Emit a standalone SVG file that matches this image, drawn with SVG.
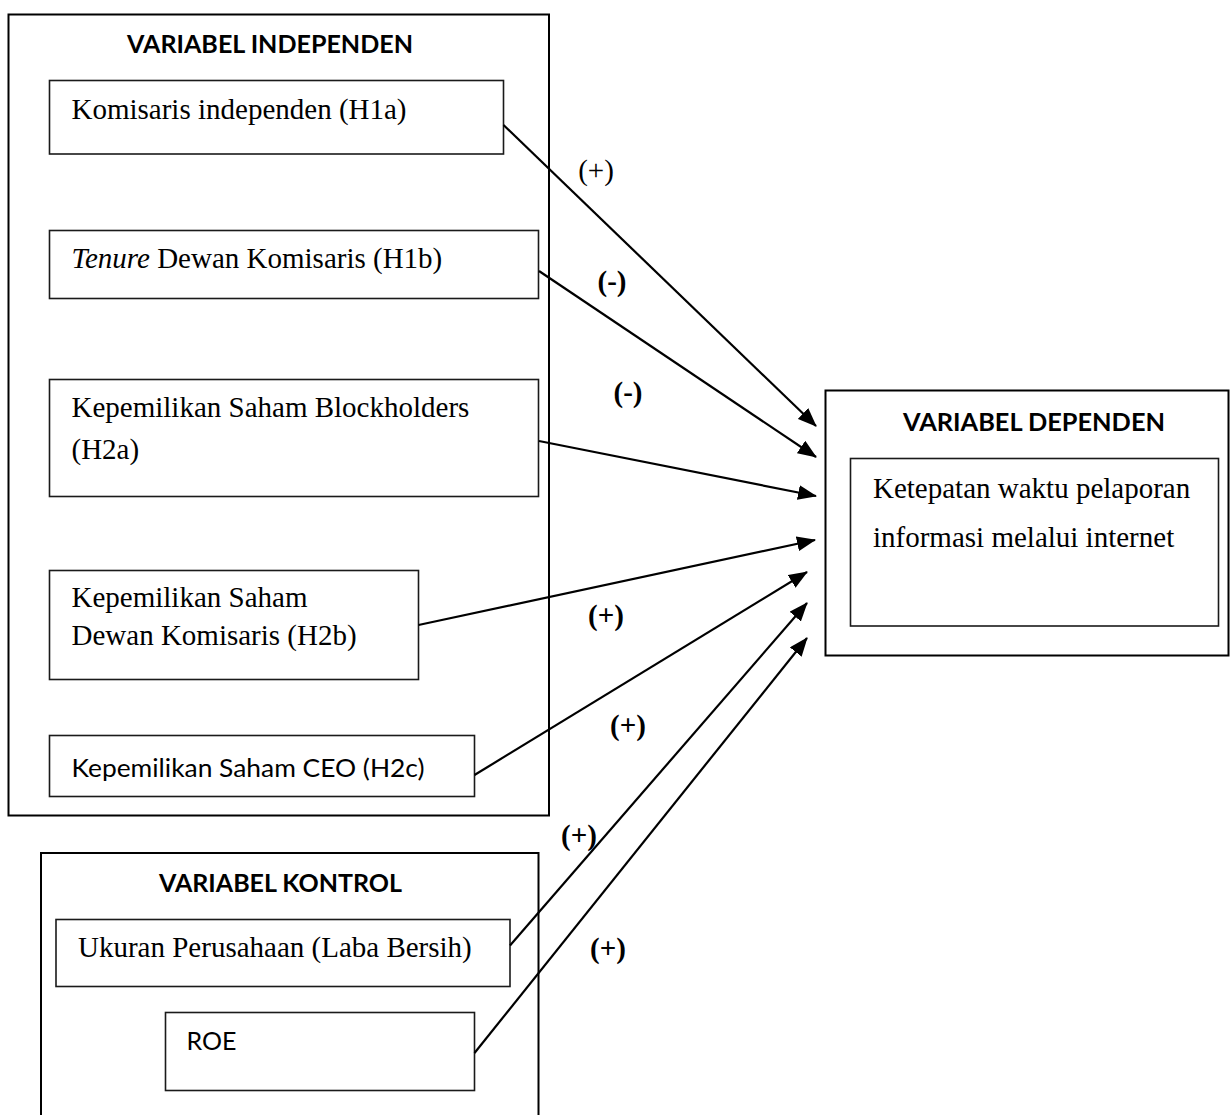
<svg xmlns="http://www.w3.org/2000/svg" width="1230" height="1115" viewBox="0 0 1230 1115">
<style>
.outer{fill:none;stroke:#000;stroke-width:2}
.box{fill:#fff;stroke:#1a1a1a;stroke-width:1.6}
.title{font-family:Lato,"Liberation Sans",sans-serif;font-weight:bold;font-size:25.5px;fill:#000;text-anchor:middle}
.serif{font-family:"Liberation Serif","Times New Roman",serif;font-size:29px;fill:#000}
.sans{font-family:Lato,"Liberation Sans",sans-serif;font-size:25px;fill:#000}
.lbl{font-family:"Liberation Serif","Times New Roman",serif;font-size:29px;fill:#000;text-anchor:middle}
.b{font-weight:bold}
.conn line{stroke:#000;stroke-width:2.2;marker-end:url(#ah)}
</style>
<defs>
<marker id="ah" markerUnits="userSpaceOnUse" markerWidth="19" markerHeight="15" refX="18" refY="7.5" orient="auto">
<path d="M0,0 L19,7.5 L0,15 z" fill="#000"/>
</marker>
</defs>
<rect width="1230" height="1115" fill="#fff"/>

<g id="independen">
<rect class="outer" x="8.5" y="14.5" width="540.5" height="801"/>
<text class="title" x="270" y="53" textLength="286" lengthAdjust="spacingAndGlyphs">VARIABEL INDEPENDEN</text>
</g>
<g id="h1a">
<rect class="box" x="49.5" y="80.5" width="454" height="73.5"/>
<text class="serif" x="71.5" y="119">Komisaris independen (H1a)</text>
</g>
<g id="h1b">
<rect class="box" x="49.5" y="230.5" width="489" height="68"/>
<text class="serif" x="71.5" y="268"><tspan font-style="italic">Tenure</tspan> Dewan Komisaris (H1b)</text>
</g>
<g id="h2a">
<rect class="box" x="49.5" y="379.5" width="489" height="117"/>
<text class="serif" x="71.5" y="417">Kepemilikan Saham Blockholders</text>
<text class="serif" x="71.5" y="459">(H2a)</text>
</g>
<g id="h2b">
<rect class="box" x="49.5" y="570.5" width="369" height="109"/>
<text class="serif" x="71.5" y="606.5">Kepemilikan Saham</text>
<text class="serif" x="71.5" y="645">Dewan Komisaris (H2b)</text>
</g>
<g id="h2c">
<rect class="box" x="49.5" y="735.5" width="425" height="61"/>
<text class="sans" x="71.5" y="776.5" textLength="353" lengthAdjust="spacingAndGlyphs">Kepemilikan Saham CEO (H2c)</text>
</g>

<g id="dependen">
<rect class="outer" x="825.5" y="390.5" width="403" height="265"/>
<text class="title" x="1034" y="431" textLength="262" lengthAdjust="spacingAndGlyphs">VARIABEL DEPENDEN</text>
</g>
<g id="ketepatan">
<rect class="box" x="850.5" y="458.5" width="368" height="167.5"/>
<text class="serif" x="873" y="498">Ketepatan waktu pelaporan</text>
<text class="serif" x="873" y="546.5">informasi melalui internet</text>
</g>

<g id="kontrol">
<rect class="outer" x="41" y="853" width="497.5" height="300"/>
<text class="title" x="280.5" y="891.5" textLength="243" lengthAdjust="spacingAndGlyphs">VARIABEL KONTROL</text>
</g>
<g id="ukuran">
<rect class="box" x="56" y="919.5" width="454" height="67"/>
<text class="serif" x="78" y="956.5">Ukuran Perusahaan (Laba Bersih)</text>
</g>
<g id="roe">
<rect class="box" x="165.5" y="1012.5" width="309" height="78"/>
<text class="sans" x="186.5" y="1050">ROE</text>
</g>

<g id="connectors" class="conn">
<line x1="503.5" y1="125" x2="816" y2="426"/>
<line x1="539" y1="271" x2="816" y2="457"/>
<line x1="539" y1="441" x2="816" y2="496"/>
<line x1="418.5" y1="625" x2="815" y2="540"/>
<line x1="474.5" y1="775" x2="807" y2="572"/>
<line x1="510" y1="945.5" x2="807" y2="603"/>
<line x1="474.5" y1="1053" x2="807" y2="638"/>
</g>

<g id="labels">
<text class="lbl" x="596" y="180">(+)</text>
<text class="lbl b" x="612" y="291">(-)</text>
<text class="lbl b" x="628" y="402">(-)</text>
<text class="lbl b" x="606" y="625">(+)</text>
<text class="lbl b" x="628" y="735">(+)</text>
<text class="lbl b" x="579" y="845">(+)</text>
<text class="lbl b" x="608" y="958">(+)</text>
</g>
</svg>
